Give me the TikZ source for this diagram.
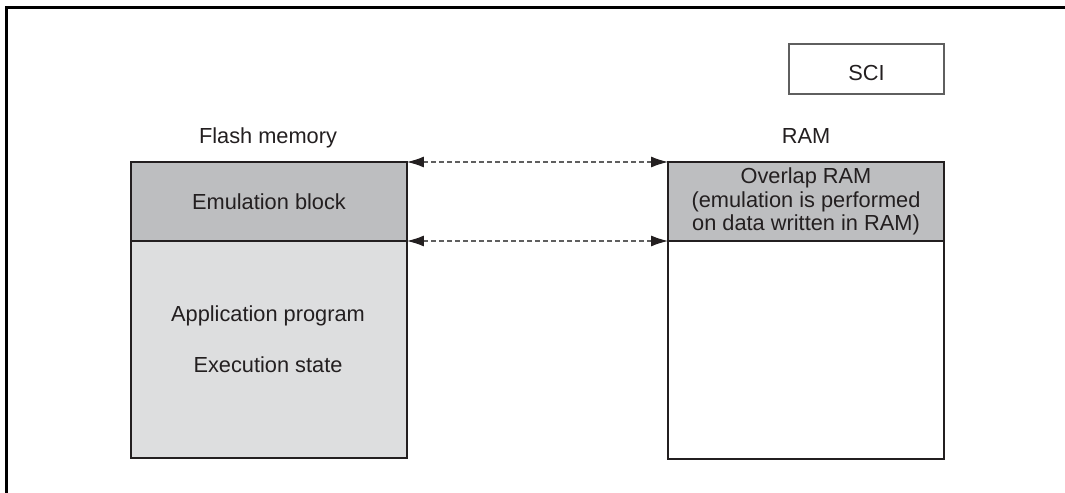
\documentclass[tikz,border=0pt]{standalone}
\usepackage{fontspec}
\setmainfont{Liberation Sans}
\usetikzlibrary{arrows.meta}
\definecolor{emugray}{RGB}{189,190,192}
\definecolor{appgray}{RGB}{221,222,223}
\definecolor{edgegray}{RGB}{95,95,95}
\definecolor{inkgray}{RGB}{35,31,32}

\begin{document}
\begin{tikzpicture}[x=0.02cm,y=-0.02cm,
    font=\fontsize{12.4}{13.4}\selectfont,text=inkgray,
    blk/.style={draw=inkgray,line width=0.026cm,minimum width=5.52cm,inner sep=0pt,outer sep=0pt},
    link/.style={{Latex[length=0.34cm,width=0.22cm,color=inkgray]}-{Latex[length=0.34cm,width=0.22cm,color=inkgray]},
      dash pattern=on 0.1cm off 0.06cm,draw=edgegray,line width=0.022cm}]
  \useasboundingbox (0,0) rectangle (1065,493);
  \draw[line width=0.045cm] (6.5,493) -- (6.5,7.5) -- (1065,7.5);
  % SCI
  \node[draw=edgegray,line width=0.03cm,minimum width=3.1cm,minimum height=1cm,text height=0.45cm] (sci) at (866.5,69) {SCI};
  % flash memory side
  \node[anchor=base] (flashlbl) at (268,144) {Flash memory};
  \node[blk,fill=emugray,minimum height=1.58cm] (emu) at (269,201.5) {Emulation block};
  \node[blk,fill=appgray,minimum height=4.34cm,anchor=north] (app) at (emu.south) {};
  \node[anchor=base] (apptxt) at (268,321.7) {Application program};
  \node[anchor=base] (exetxt) at (268,372.7) {Execution state};
  % RAM side
  \node[anchor=base] (ramlbl) at (806,144) {RAM};
  \node[blk,fill=emugray,minimum height=1.58cm,align=center] (ovl) at (806,201.5)
    {Overlap RAM\\(emulation is performed\\on data written in RAM)};
  \node[blk,fill=white,minimum height=4.36cm,anchor=north] (ramlow) at (ovl.south) {};
  % links
  \draw[link] (emu.north east) -- (ovl.north west);
  \draw[link] (emu.south east) -- (ovl.south west);
\end{tikzpicture}
\end{document}
